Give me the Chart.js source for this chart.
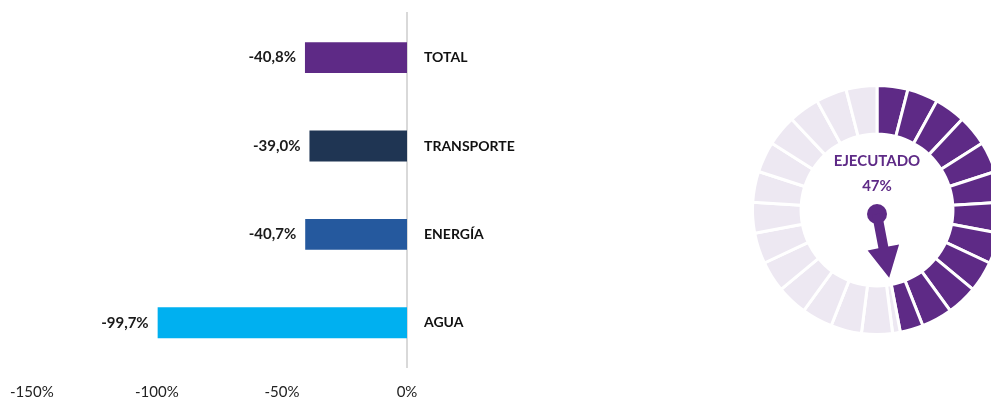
<!DOCTYPE html>
<html>
<head>
<meta charset="utf-8">
<script src="https://cdn.jsdelivr.net/npm/chart.js@4.4.1/dist/chart.umd.min.js"></script>
<style>
  html, body { margin: 0; padding: 0; background: #fff; overflow: hidden; width: 991px; height: 400px; }
  #barWrap { position: absolute; left: -6px; top: -12px; width: 613px; height: 412px; }
  #gaugeWrap { position: absolute; left: 751px; top: 84px; width: 252px; height: 252px; }
</style>
</head>
<body>
<div id="barWrap"><canvas id="bars" width="613" height="412"></canvas></div>
<div id="gaugeWrap"><canvas id="gauge" width="252" height="252"></canvas></div>
<script>
// bar data
const categories = ['TOTAL', 'TRANSPORTE', 'ENERGÍA', 'AGUA'];
const variation = [-40.8, -39.0, -40.7, -99.7];
const barColors = ['#5E2A86', '#1F3553', '#25599E', '#00B0F0'];
const xTicks = [-150, -100, -50, 0];

// gauge data
const gaugeLabel = 'EJECUTADO';
const ejecutado = 47;
const gaugeSegments = 25;

const purple = '#5E2A86';
const lightPurple = '#EDE8F2';
const font = 'Lato';

// value labels left of each bar
const valueLabels = {
    id: 'valueLabels',
    afterDatasetsDraw(chart) {
        const ctx = chart.ctx;
        const meta = chart.getDatasetMeta(0);
        ctx.save();
        ctx.font = 'bold 15px ' + font;
        ctx.fillStyle = '#1a1a1a';
        ctx.textAlign = 'right';
        ctx.textBaseline = 'middle';
        meta.data.forEach((bar, i) => {
            const txt = variation[i].toFixed(1).replace('.', ',') + '%';
            ctx.fillText(txt, bar.x - 9, bar.y);
        });
        ctx.restore();
    }
};

new Chart(document.getElementById('bars'), {
    type: 'bar',
    data: {
        labels: categories,
        datasets: [{ data: variation, backgroundColor: barColors, borderWidth: 0, barPercentage: 0.35, categoryPercentage: 1 }]
    },
    options: {
        responsive: false,
        animation: false,
        indexAxis: 'y',
        layout: { padding: 0 },
        plugins: { legend: { display: false }, tooltip: { enabled: false } },
        scales: {
            x: {
                min: -150, max: 0,
                afterBuildTicks: s => { s.ticks = xTicks.map(v => ({ value: v })); },
                afterFit: s => { s.height = 33; },
                grid: { display: false, drawTicks: false },
                border: { display: false },
                ticks: { padding: 16, color: '#222', font: { family: font, size: 15 }, callback: v => v + '%' }
            },
            y: {
                position: 'right',
                afterFit: s => { s.width = 200; },
                grid: { display: false, drawTicks: false },
                border: { display: true, color: '#d9d9d9', width: 2 },
                ticks: { padding: 17, color: '#111', font: { family: font, size: 14, weight: 'bold' } }
            }
        }
    },
    plugins: [valueLabels]
});

// build gauge slices: equal segments, split where the executed share ends
const segSize = 100 / gaugeSegments;
const gaugeData = [];
const gaugeColors = [];
for (let i = 0; i < gaugeSegments; i++) {
    const a = i * segSize, b = (i + 1) * segSize;
    if (b <= ejecutado) { gaugeData.push(segSize); gaugeColors.push(purple); }
    else if (a >= ejecutado) { gaugeData.push(segSize); gaugeColors.push(lightPurple); }
    else {
        gaugeData.push(ejecutado - a); gaugeColors.push(purple);
        gaugeData.push(b - ejecutado); gaugeColors.push(lightPurple);
    }
}

const gaugeCenter = {
    id: 'gaugeCenter',
    afterDraw(chart) {
        const ctx = chart.ctx;
        const arc = chart.getDatasetMeta(0).data[0];
        const cx = arc.x, cy = arc.y;
        ctx.save();
        ctx.fillStyle = purple;
        ctx.textAlign = 'center';
        ctx.textBaseline = 'middle';
        ctx.font = 'bold 15px ' + font;
        ctx.fillText(gaugeLabel, cx, cy - 49);
        ctx.fillText(ejecutado + '%', cx, cy - 24);
        // needle
        const ang = ejecutado / 100 * Math.PI * 2;
        const dx = Math.sin(ang), dy = -Math.cos(ang);
        const px = -dy, py = dx;
        const ox = cx, oy = cy + 4;
        ctx.beginPath();
        ctx.arc(ox, oy, 10, 0, Math.PI * 2);
        ctx.fill();
        const shaftEnd = 34, tip = 65, hw = 16, sw = 5;
        ctx.beginPath();
        ctx.moveTo(ox + px * sw, oy + py * sw);
        ctx.lineTo(ox + dx * shaftEnd + px * sw, oy + dy * shaftEnd + py * sw);
        ctx.lineTo(ox + dx * shaftEnd + px * hw, oy + dy * shaftEnd + py * hw);
        ctx.lineTo(ox + dx * tip, oy + dy * tip);
        ctx.lineTo(ox + dx * shaftEnd - px * hw, oy + dy * shaftEnd - py * hw);
        ctx.lineTo(ox + dx * shaftEnd - px * sw, oy + dy * shaftEnd - py * sw);
        ctx.lineTo(ox - px * sw, oy - py * sw);
        ctx.closePath();
        ctx.fill();
        ctx.restore();
    }
};

new Chart(document.getElementById('gauge'), {
    type: 'doughnut',
    data: {
        datasets: [{ data: gaugeData, backgroundColor: gaugeColors, borderColor: '#ffffff', borderWidth: 3 }]
    },
    options: {
        responsive: false,
        animation: false,
        cutout: '61%',
        plugins: { legend: { display: false }, tooltip: { enabled: false } }
    },
    plugins: [gaugeCenter]
});
</script>
</body>
</html>
